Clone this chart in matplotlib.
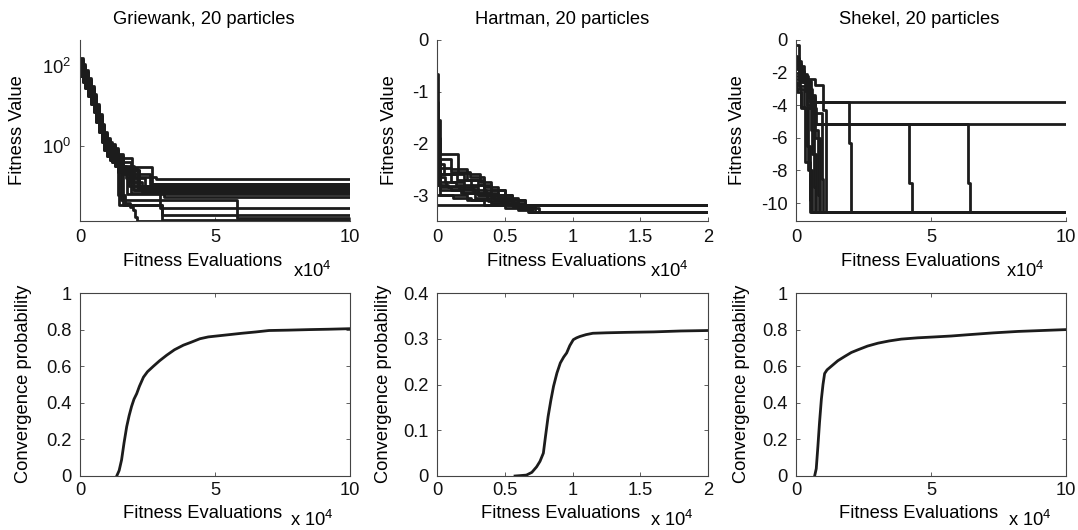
import numpy as np
import matplotlib
matplotlib.use("Agg")
import matplotlib.pyplot as plt
from matplotlib.ticker import FuncFormatter, NullLocator, FixedLocator, LogFormatterSciNotation

plt.rcParams['font.family'] = ['Liberation Sans', 'DejaVu Sans']
plt.rcParams['mathtext.default'] = 'regular'
plt.rcParams['axes.unicode_minus'] = False

# ---------------- data (x in units of 10^4 fitness evaluations) ----------------
titles = ["Griewank, 20 particles", "Hartman, 20 particles", "Shekel, 20 particles"]

# Griewank runs: x, log10(fitness) (step curves)
gdec = [0, 0.1, 0.2, 0.3, 0.4, 0.5, 0.6, 0.7, 0.8, 0.9, 1.0, 1.1, 1.2, 1.3, 1.4]
griewank_x = [
    gdec + [1.6, 2.0, 2.8, 10],
    gdec + [1.5, 1.9, 2.6, 10],
    gdec + [1.7, 2.2, 10],
    gdec + [1.7, 2.4, 10],
    gdec + [1.55, 1.9, 10],
    gdec + [1.8, 10],
    gdec + [1.6, 2.1, 10],
    gdec + [1.5, 1.9, 2.3, 10],
    gdec + [1.45, 1.75, 10],
    gdec + [1.93, 2.67, 10],
    gdec + [1.5, 5.8, 10],
    gdec + [1.45, 3.05, 10],
    gdec + [1.67, 1.85, 1.97, 2.04, 2.1, 10],
    gdec + [1.6, 2.0, 2.96, 10],
    gdec + [1.5, 2.2, 3.1, 10],
    gdec + [1.6, 1.95, 10],
    gdec + [1.6, 3.05, 10],
]
griewank_logf = [
    [2.2, 2.05, 1.9, 1.7, 1.5, 1.3, 1.05, 0.8, 0.55, 0.35, 0.2, 0.1, 0.05, -0.05, -0.2, -0.5, -0.78, -0.825, -0.825],
    [2.1, 1.95, 1.82, 1.6, 1.42, 1.2, 0.95, 0.72, 0.45, 0.25, 0.1, 0.02, -0.05, -0.15, -0.3, -0.4, -0.7, -0.95, -0.95],
    [1.9, 1.77, 1.6, 1.4, 1.2, 1.02, 0.75, 0.5, 0.27, 0.05, -0.1, -0.2, -0.25, -0.35, -0.5, -0.6, -1.025, -1.025],
    [1.8, 1.65, 1.5, 1.32, 1.1, 0.9, 0.65, 0.42, 0.15, -0.05, -0.2, -0.3, -0.35, -0.45, -0.6, -0.8, -1.1, -1.1],
    [2.05, 1.9, 1.74, 1.55, 1.35, 1.15, 0.9, 0.65, 0.4, 0.2, 0.05, -0.05, -0.1, -0.2, -0.35, -0.7, -1.175, -1.175],
    [1.75, 1.6, 1.45, 1.25, 1.05, 0.85, 0.6, 0.35, 0.1, -0.1, -0.25, -0.35, -0.4, -0.5, -0.65, -1.0, -1.0],
    [2.15, 2.0, 1.85, 1.66, 1.45, 1.25, 1.0, 0.75, 0.52, 0.3, 0.15, 0.05, 0.0, -0.1, -0.25, -0.55, -1.05, -1.05],
    [2.0, 1.86, 1.7, 1.5, 1.3, 1.1, 0.86, 0.6, 0.35, 0.15, 0.0, -0.1, -0.15, -0.25, -0.4, -0.6, -0.9, -1.15, -1.15],
    [1.95, 1.8, 1.65, 1.45, 1.25, 1.05, 0.8, 0.55, 0.3, 0.1, -0.05, -0.15, -0.2, -0.3, -0.45, -0.65, -1.2, -1.2],
    [2.12, 1.96, 1.8, 1.62, 1.4, 1.22, 0.96, 0.7, 0.46, 0.26, 0.1, 0.0, -0.05, -0.15, -0.3, -0.52, -0.95, -0.95],
    [1.85, 1.7, 1.55, 1.35, 1.15, 0.95, 0.7, 0.45, 0.2, 0.0, -0.15, -0.25, -0.3, -0.4, -0.55, -1.35, -1.8, -1.8],
    [2.05, 1.92, 1.75, 1.56, 1.36, 1.15, 0.9, 0.66, 0.4, 0.2, 0.05, -0.05, -0.1, -0.2, -0.35, -1.475, -1.725, -1.725],
    [1.82, 1.66, 1.5, 1.3, 1.1, 0.9, 0.65, 0.4, 0.15, -0.05, -0.2, -0.3, -0.35, -0.45, -1.225, -1.43, -1.52, -1.6, -1.78, -1.875, -1.875],
    [1.9, 1.75, 1.6, 1.42, 1.2, 1.0, 0.76, 0.5, 0.25, 0.05, -0.1, -0.2, -0.25, -0.35, -0.5, -0.55, -1.1, -1.55, -1.55],
    [2.16, 2.0, 1.86, 1.65, 1.46, 1.25, 1.0, 0.76, 0.5, 0.3, 0.15, 0.05, 0.0, -0.1, -0.25, -0.6, -1.0, -1.275, -1.275],
    [1.96, 1.8, 1.65, 1.46, 1.25, 1.05, 0.8, 0.55, 0.3, 0.1, -0.05, -0.15, -0.2, -0.3, -0.45, -0.65, -1.1, -1.1],
    [1.76, 1.6, 1.46, 1.25, 1.05, 0.86, 0.6, 0.35, 0.1, -0.1, -0.25, -0.35, -0.4, -0.5, -0.65, -1.475, -1.85, -1.85],
]

# Hartman runs: x, fitness
hartman_x = [
    [0, 0.005, 0.02, 0.1, 0.2, 0.3, 0.4, 0.5, 0.6, 0.7, 2.0],
    [0, 0.02, 0.155, 0.24, 0.35, 0.45, 0.55, 0.65, 2.0],
    [0, 0.01, 0.1, 0.24, 0.32, 0.4, 0.5, 0.6, 0.72, 2.0],
    [0, 0.02, 0.19, 0.3, 0.45, 0.55, 0.68, 2.0],
    [0, 0.02, 0.12, 0.25, 0.4, 0.5, 0.62, 2.0],
    [0, 0.01, 0.2, 0.35, 0.5, 0.65, 0.75, 2.0],
    [0, 0.22, 0.35, 0.5, 0.7, 2.0],
    [0, 2.0],
    [0, 0.005, 0.05, 0.15, 0.25, 0.35, 0.45, 0.55, 0.65, 2.0],
    [0, 0.01, 0.08, 0.2, 0.3, 0.42, 0.52, 0.6, 0.7, 2.0],
    [0, 0.03, 0.1, 0.18, 0.28, 0.38, 0.48, 0.58, 2.0],
    [0, 0.005, 0.1, 0.22, 0.3, 0.4, 0.55, 0.67, 2.0],
    [0, 0.01, 0.06, 0.14, 0.26, 0.36, 0.46, 0.56, 0.7, 2.0],
    [0, 0.02, 0.07, 0.16, 0.27, 0.37, 0.47, 0.6, 2.0],
]
hartman_f = [
    [-0.65, -1.9, -2.6, -2.75, -2.85, -2.95, -3.05, -3.15, -3.25, -3.32, -3.32],
    [-1.55, -2.2, -2.58, -2.65, -2.85, -3.0, -3.1, -3.2, -3.2],
    [-2.0, -2.47, -2.55, -2.6, -2.75, -2.9, -3.05, -3.2, -3.32, -3.32],
    [-2.3, -2.91, -2.95, -3.0, -3.1, -3.2, -3.32, -3.32],
    [-2.5, -3.0, -3.05, -3.1, -3.15, -3.18, -3.2, -3.2],
    [-2.1, -2.6, -2.7, -2.9, -3.1, -3.25, -3.32, -3.32],
    [-3.0, -3.1, -3.2, -3.25, -3.32, -3.32],
    [-3.2, -3.2],
    [-1.2, -2.4, -2.6, -2.7, -2.8, -2.95, -3.05, -3.15, -3.2, -3.2],
    [-2.6, -2.8, -2.85, -2.9, -3.0, -3.1, -3.2, -3.28, -3.32, -3.32],
    [-2.8, -2.85, -2.9, -2.95, -3.05, -3.12, -3.18, -3.2, -3.2],
    [-1.8, -2.3, -2.5, -2.7, -2.8, -3.0, -3.2, -3.32, -3.32],
    [-2.4, -2.65, -2.75, -2.8, -2.9, -3.0, -3.1, -3.22, -3.32, -3.32],
    [-2.7, -2.75, -2.82, -2.88, -2.95, -3.05, -3.15, -3.2, -3.2],
]

# Shekel runs: x, fitness
shekel_x = [
    [0, 0.1, 0.3, 0.52, 10],
    [0, 0.15, 0.35, 0.55, 1.96, 2.05, 10],
    [0, 0.2, 0.45, 0.7, 10],
    [0, 0.1, 0.4, 0.72, 4.2, 4.3, 10],
    [0, 0.2, 0.5, 0.75, 6.37, 6.45, 10],
    [0, 0.3, 0.7, 1.0, 1.1, 10],
    [0, 0.1, 0.25, 0.4, 0.5, 0.55, 10],
    [0, 0.15, 0.3, 0.45, 0.6, 10],
    [0, 0.05, 0.2, 0.5, 0.65, 0.7, 10],
    [0, 0.2, 0.35, 0.6, 0.75, 10],
    [0, 0.1, 0.3, 0.55, 0.8, 0.85, 10],
    [0, 0.25, 0.45, 0.7, 0.9, 10],
    [0, 0.15, 0.4, 0.6, 0.95, 1.0, 10],
    [0, 0.05, 0.2, 0.35, 0.5, 10],
]
shekel_f = [
    [-0.3, -2.0, -2.6, -3.8, -3.8],
    [-1.8, -2.4, -3.1, -3.8, -6.3, -10.54, -10.54],
    [-1.5, -2.2, -3.5, -5.17, -5.17],
    [-2.0, -2.8, -4.0, -5.17, -8.8, -10.54, -10.54],
    [-1.3, -2.5, -4.2, -5.17, -8.8, -10.54, -10.54],
    [-1.6, -2.4, -2.75, -4.3, -10.54, -10.54],
    [-1.1, -1.8, -2.2, -6.5, -9.8, -10.54, -10.54],
    [-2.4, -3.0, -4.2, -8.0, -10.54, -10.54],
    [-1.0, -1.5, -2.6, -3.5, -9.0, -10.54, -10.54],
    [-3.0, -4.1, -4.2, -7.0, -10.54, -10.54],
    [-1.4, -1.9, -2.5, -5.5, -9.5, -10.54, -10.54],
    [-2.2, -2.6, -3.4, -6.0, -10.54, -10.54],
    [-1.7, -2.1, -3.0, -4.5, -8.5, -10.54, -10.54],
    [-2.6, -3.2, -4.2, -7.5, -10.54, -10.54],
]

# Convergence probability curves
griewank_conv_x = [1.36, 1.45, 1.54, 1.63, 1.73, 1.82, 1.91, 2.0, 2.1, 2.2, 2.35, 2.5, 2.72, 2.95, 3.21, 3.5, 3.83, 4.1, 4.44, 4.75, 5.06, 5.5, 6.0, 6.5, 7.0, 7.7, 8.5, 9.2, 10.0]
griewank_conv_p = [0.0, 0.03, 0.088, 0.18, 0.27, 0.33, 0.38, 0.42, 0.45, 0.49, 0.54, 0.57, 0.60, 0.63, 0.66, 0.69, 0.715, 0.73, 0.75, 0.76, 0.765, 0.772, 0.78, 0.787, 0.795, 0.797, 0.80, 0.802, 0.805]
hartman_conv_x = [0.576, 0.62, 0.66, 0.70, 0.735, 0.76, 0.785, 0.80, 0.82, 0.84, 0.86, 0.885, 0.91, 0.935, 0.957, 0.98, 1.006, 1.03, 1.055, 1.1, 1.15, 1.25, 1.40, 1.6, 1.8, 2.0]
hartman_conv_p = [0.0, 0.001, 0.002, 0.008, 0.02, 0.032, 0.05, 0.085, 0.13, 0.165, 0.196, 0.225, 0.247, 0.26, 0.269, 0.285, 0.298, 0.302, 0.305, 0.309, 0.312, 0.313, 0.314, 0.315, 0.317, 0.318]
shekel_conv_x = [0.69, 0.75, 0.81, 0.87, 0.94, 1.0, 1.06, 1.15, 1.31, 1.55, 1.8, 2.05, 2.3, 2.65, 3.04, 3.45, 3.9, 4.5, 5.14, 5.75, 6.37, 7.3, 8.22, 9.1, 10.0]
shekel_conv_p = [0.0, 0.04, 0.16, 0.29, 0.42, 0.5, 0.56, 0.58, 0.60, 0.63, 0.653, 0.675, 0.69, 0.71, 0.726, 0.738, 0.748, 0.755, 0.76, 0.765, 0.772, 0.782, 0.79, 0.795, 0.80]

# ---------------- figure ----------------
W, H = 1078, 530
fig = plt.figure(figsize=(W / 100, H / 100), dpi=100)

def fx(px):
    return px / W

def fy(py):
    return 1 - py / H

col_left = [80, 437, 796]
col_width = [270, 271, 270]
top_row = (40, 221)
bot_row = (293, 476)

LC = '#1c1c1c'
LW = 2.0
FS = 13.2
TFS = 13.2

def style(ax, box):
    for s in ['left', 'bottom', 'top', 'right']:
        ax.spines[s].set_linewidth(0.8)
        ax.spines[s].set_color('#444444')
    if not box:
        ax.spines['top'].set_visible(False)
        ax.spines['right'].set_visible(False)
    ax.tick_params(direction='in', length=3, width=0.6, colors='#444444',
                   labelcolor='#111111', labelsize=TFS, top=box, right=box, pad=6)

gfmt = FuncFormatter(lambda v, p: f'{v:g}')

axes_top = []
axes_bot = []
for i in range(3):
    l = col_left[i]; w = col_width[i]
    at = fig.add_axes([fx(l), fy(top_row[1]), w / W, (top_row[1] - top_row[0]) / H])
    ab = fig.add_axes([fx(l), fy(bot_row[1]), w / W, (bot_row[1] - bot_row[0]) / H])
    style(at, False)
    style(ab, True)
    axes_top.append(at); axes_bot.append(ab)

# Griewank top
ax = axes_top[0]
for xs, ls in zip(griewank_x, griewank_logf):
    ax.plot(xs, 10 ** np.array(ls), drawstyle='steps-post', color=LC, lw=LW)
ax.set_yscale('log')
ax.set_xlim(0, 10)
ax.set_ylim(10 ** -1.875, 10 ** 2.65)
ax.yaxis.set_major_locator(FixedLocator([1, 100]))
ax.yaxis.set_major_formatter(LogFormatterSciNotation())
ax.yaxis.set_minor_locator(NullLocator())
ax.set_xticks([0, 5, 10])
ax.xaxis.set_major_formatter(gfmt)

# Hartman top
ax = axes_top[1]
for xs, ys in zip(hartman_x, hartman_f):
    ax.plot(xs, ys, drawstyle='steps-post', color=LC, lw=LW)
ax.set_xlim(0, 2)
ax.set_ylim(-3.5, 0)
ax.set_xticks([0, 0.5, 1, 1.5, 2])
ax.set_yticks([-3, -2, -1, 0])
ax.xaxis.set_major_formatter(gfmt)
ax.yaxis.set_major_formatter(gfmt)

# Shekel top
ax = axes_top[2]
for xs, ys in zip(shekel_x, shekel_f):
    ax.plot(xs, ys, drawstyle='steps-post', color=LC, lw=LW)
ax.set_xlim(0, 10)
ax.set_ylim(-11.1, 0)
ax.set_xticks([0, 5, 10])
ax.set_yticks([-10, -8, -6, -4, -2, 0])
ax.xaxis.set_major_formatter(gfmt)
ax.yaxis.set_major_formatter(gfmt)

# Bottom convergence plots
conv = [(griewank_conv_x, griewank_conv_p, 10, 1.0, [0, 0.2, 0.4, 0.6, 0.8, 1]),
        (hartman_conv_x, hartman_conv_p, 2, 0.4, [0, 0.1, 0.2, 0.3, 0.4]),
        (shekel_conv_x, shekel_conv_p, 10, 1.0, [0, 0.2, 0.4, 0.6, 0.8, 1])]
for ax, (cx, cp, xmax, ymax, yt) in zip(axes_bot, conv):
    ax.plot(cx, cp, color=LC, lw=LW)
    ax.set_xlim(0, xmax)
    ax.set_ylim(0, ymax)
    ax.set_yticks(yt)
    if xmax == 2:
        ax.set_xticks([0, 0.5, 1, 1.5, 2])
    else:
        ax.set_xticks([0, 5, 10])
    ax.xaxis.set_major_formatter(gfmt)
    ax.yaxis.set_major_formatter(gfmt)
    ax.tick_params(axis='x', pad=4)

# ---------------- text ----------------
title_cx = [204, 562, 919]
for t, cx in zip(titles, title_cx):
    fig.text(fx(cx), fy(20), t, ha='center', va='center', fontsize=FS)

xl_top_cx = [203, 567, 921]
xl_bot_cx = [203, 561, 919]
for cx in xl_top_cx:
    fig.text(fx(cx), fy(261), 'Fitness Evaluations', ha='center', va='center', fontsize=FS)
for cx in xl_bot_cx:
    fig.text(fx(cx), fy(513), 'Fitness Evaluations', ha='center', va='center', fontsize=FS)

mult_top_x = [293, 650, 1006]
mult_bot_x = [290, 650, 1008]
for x0 in mult_top_x:
    fig.text(fx(x0), fy(277), r'x10$^{4}$', ha='left', va='baseline', fontsize=FS)
for x0 in mult_bot_x:
    fig.text(fx(x0), fy(526), r'x 10$^{4}$', ha='left', va='baseline', fontsize=FS)

yl_top_cx = [18, 390, 737]
yl_bot_cx = [24, 383, 741]
for cx in yl_top_cx:
    fig.text(fx(cx), fy(130), 'Fitness Value', rotation=90, ha='center', va='center', fontsize=FS)
for cx in yl_bot_cx:
    fig.text(fx(cx), fy(384), 'Convergence probability', rotation=90, ha='center', va='center', fontsize=FS)

fig.savefig('out.png', dpi=100)
